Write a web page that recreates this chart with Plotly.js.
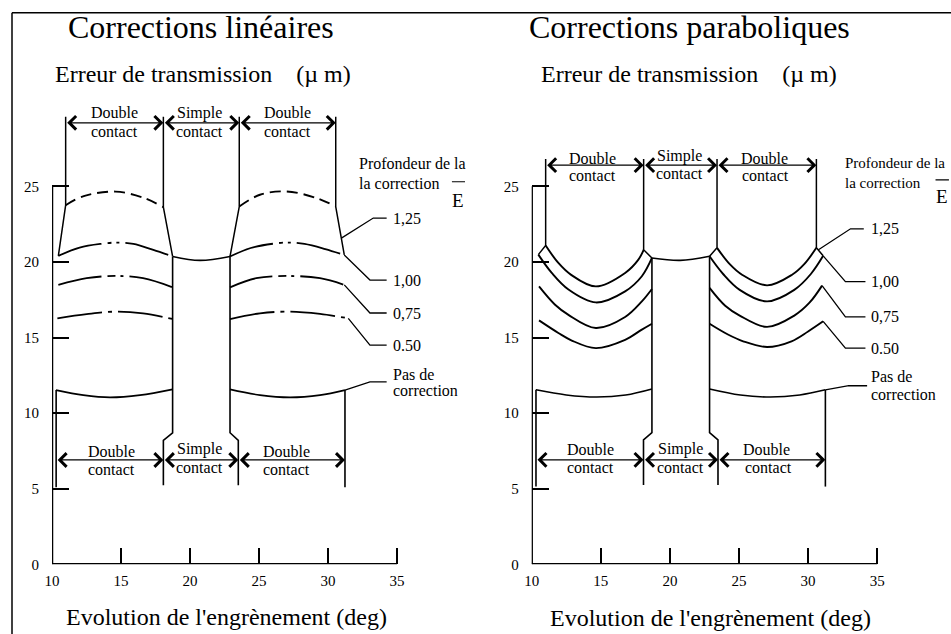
<!DOCTYPE html>
<html><head><meta charset="utf-8">
<script src="https://cdn.plot.ly/plotly-3.0.1.min.js"></script>
<style>html,body{margin:0;padding:0;background:#fff;} #chart{width:951px;height:634px;}</style>
</head><body><div id="chart"></div>
<script>
// ================= DATA =================
const xTicks = [10, 15, 20, 25, 30, 35];
const yTicks = [0, 5, 10, 15, 20, 25];
const depthLabels = ['1,25', '1,00', '0,75', '0.50'];

// ---- Linear corrections (left) ----
const lin125Lx = [10.99, 12.3, 14.6, 16.6, 18.07];
const lin125Ly = [23.75, 24.35, 24.65, 24.25, 23.62];
const lin125Rx = [23.57, 25.07, 27.0, 29.18, 30.56];
const lin125Ry = [23.66, 24.44, 24.66, 24.22, 23.66];
const lin100Lx = [10.46, 12.0, 13.6, 14.7, 15.9, 17.34, 18.74];
const lin100Ly = [20.4, 20.95, 21.2, 21.28, 21.19, 20.79, 20.36];
const lin100Rx = [22.9, 24.4, 26.0, 27.1, 28.3, 29.8, 31.18];
const lin100Ry = [20.36, 20.92, 21.2, 21.28, 21.19, 20.85, 20.46];
const lin075Lx = [10.46, 12.51, 14.57, 16.6, 18.74];
const lin075Ly = [18.48, 18.92, 19.07, 18.92, 18.32];
const lin075Rx = [22.9, 24.8, 27.0, 29.42, 31.18];
const lin075Ry = [18.32, 18.92, 19.07, 18.92, 18.48];
const lin050Lx = [10.39, 12.51, 14.57, 16.6, 18.74];
const lin050Ly = [16.27, 16.54, 16.71, 16.6, 16.22];
const lin050Rx = [22.9, 25.07, 27.25, 29.42, 31.47];
const lin050Ry = [16.22, 16.6, 16.71, 16.56, 16.27];
const lin000Lx = [10.29, 12.27, 14.2, 16.38, 18.74];
const lin000Ly = [11.52, 11.19, 11.04, 11.19, 11.57];
const lin000Rx = [22.9, 25.07, 27.25, 29.42, 31.23];
const lin000Ry = [11.57, 11.19, 11.04, 11.19, 11.52];
const linSimpleX = [18.74, 20.72, 22.9];
const linSimpleY = [20.36, 20.1, 20.36];
const linEdgeX = [[10.46, 10.99, 10.99], [18.74, 18.07, 18.07], [22.9, 23.57, 23.57], [31.18, 30.56, 30.56]];
const linEdgeY = [[20.4, 23.75, 29.6], [20.36, 23.62, 29.6], [20.36, 23.66, 29.6], [20.46, 23.66, 29.6]];
const linPostX = [[18.74, 18.74, 18.07, 18.07], [22.9, 22.9, 23.5, 23.5], [10.3, 10.3], [31.23, 31.23]];
const linPostY = [[20.36, 8.7, 8.2, 5.23], [20.36, 8.7, 8.2, 5.23], [11.52, 5.1], [11.52, 5.1]];
const linLeadX = [[30.97, 33.28, 34.25], [31.18, 33.04, 34.25], [31.18, 33.04, 34.25], [31.47, 33.04, 34.25], [31.23, 33.04, 34.25]];
const linLeadY = [[21.57, 22.9, 22.9], [20.46, 18.8, 18.8], [18.48, 16.62, 16.62], [16.27, 14.5, 14.5], [11.52, 12.07, 12.07]];
const linZoneTopX = [10.99, 18.07, 23.57, 30.56];
const linZoneTopY = 29.2;
const linZoneBotX = [10.3, 18.07, 23.5, 31.23];
const linZoneBotY = 6.9;

// ---- Parabolic corrections (right) ----
const par125Lx = [11.01, 11.93, 12.83, 14.64, 16.76, 17.72, 18.1];
const par125Ly = [21.08, 19.93, 19.16, 18.38, 19.27, 20.15, 20.8];
const par125Rx = [23.41, 24.33, 25.22, 27.03, 28.84, 29.72, 30.6];
const par125Ry = [20.93, 19.85, 19.15, 18.45, 19.15, 19.85, 20.93];
const par100Lx = [10.48, 11.45, 12.66, 14.64, 16.76, 17.97, 18.7];
const par100Ly = [20.48, 19.27, 18.17, 17.32, 18.05, 19.05, 20.26];
const par100Rx = [22.87, 23.85, 25.05, 27.03, 29.0, 30.2, 31.09];
const par100Ry = [20.37, 19.2, 18.15, 17.39, 18.15, 19.2, 20.4];
const par075Lx = [10.53, 11.69, 12.66, 14.64, 16.76, 17.97, 18.7];
const par075Ly = [18.38, 17.17, 16.5, 15.63, 16.36, 17.39, 18.21];
const par075Rx = [22.87, 24.0, 25.05, 27.03, 29.0, 30.1, 31.01];
const par075Ry = [18.28, 17.1, 16.45, 15.7, 16.45, 17.3, 18.43];
const par050Lx = [10.53, 11.93, 12.9, 14.64, 16.76, 17.97, 18.7];
const par050Ly = [16.13, 15.3, 14.8, 14.3, 14.85, 15.52, 15.91];
const par050Rx = [22.87, 24.2, 25.3, 27.03, 28.8, 30.0, 31.09];
const par050Ry = [15.91, 15.2, 14.75, 14.37, 14.75, 15.4, 16.07];
const par000Lx = [10.31, 12.5, 14.71, 16.8, 18.7];
const par000Ly = [11.54, 11.2, 11.06, 11.2, 11.6];
const par000Rx = [22.87, 25.1, 27.27, 29.4, 31.25];
const par000Ry = [11.6, 11.2, 11.06, 11.2, 11.54];
const parSimpleX = [18.7, 20.75, 22.87];
const parSimpleY = [20.26, 20.1, 20.37];
const parEdgeX = [[10.48, 11.01, 11.01], [18.7, 18.1, 18.1], [22.87, 23.41, 23.41], [31.09, 30.6, 30.6]];
const parEdgeY = [[20.48, 21.08, 26.8], [20.26, 20.8, 26.8], [20.37, 20.93, 26.8], [20.4, 20.93, 26.8]];
const parPostX = [[18.7, 18.7, 18.09, 18.09], [22.87, 22.87, 23.48, 23.48], [10.31, 10.31], [31.25, 31.25]];
const parPostY = [[20.26, 8.71, 8.23, 5.25], [20.37, 8.71, 8.23, 5.25], [11.54, 5.14], [11.54, 5.14]];
const parLeadX = [[30.75, 33.07, 34.03], [31.09, 32.7, 34.15], [31.01, 32.7, 34.15], [31.09, 32.7, 34.15], [31.25, 32.94, 34.27]];
const parLeadY = [[20.8, 22.19, 22.19], [20.4, 18.7, 18.7], [18.43, 16.36, 16.36], [16.07, 14.3, 14.3], [11.54, 11.81, 11.81]];
const parZoneTopX = [11.01, 18.1, 23.41, 30.6];
const parZoneTopY = 26.4;
const parZoneBotX = [10.31, 18.09, 23.48, 31.25];
const parZoneBotY = 6.91;

// ================= DRAWING =================
const FONT = '"Liberation Serif", "Times New Roman", Times, serif';
const BLACK = '#000';
const traces = [];
function addLine(xs, ys, xa, ya, width, dash, spline) {
  traces.push({
    type: 'scatter', mode: 'lines', x: xs, y: ys, xaxis: xa, yaxis: ya,
    line: {color: BLACK, width: width, dash: dash || 'solid', shape: spline ? 'spline' : 'linear', smoothing: 1},
    hoverinfo: 'skip', showlegend: false
  });
}
const DASH125 = '11px,6px';
const DASH100 = '45px,6px,4px,5px,3px,6px';
const DASH075 = '44px,6px,8px,5px,3px,6px';
const DASH050 = '45px,6px,4px,6px';

// left panel curves
addLine(lin125Lx, lin125Ly, 'x', 'y', 1.9, DASH125, true);
addLine(lin125Rx, lin125Ry, 'x', 'y', 1.9, DASH125, true);
addLine(lin100Lx, lin100Ly, 'x', 'y', 1.8, DASH100, true);
addLine(lin100Rx, lin100Ry, 'x', 'y', 1.8, DASH100, true);
addLine(lin075Lx, lin075Ly, 'x', 'y', 1.8, DASH075, true);
addLine(lin075Rx, lin075Ry, 'x', 'y', 1.8, DASH075, true);
addLine(lin050Lx, lin050Ly, 'x', 'y', 1.8, DASH050, true);
addLine(lin050Rx, lin050Ry, 'x', 'y', 1.8, DASH050, true);
addLine(lin000Lx, lin000Ly, 'x', 'y', 1.6, 'solid', true);
addLine(lin000Rx, lin000Ry, 'x', 'y', 1.6, 'solid', true);
addLine(linSimpleX, linSimpleY, 'x', 'y', 1.6, 'solid', true);
linEdgeX.forEach((xs, i) => addLine(xs, linEdgeY[i], 'x', 'y', 1.5));
linPostX.forEach((xs, i) => addLine(xs, linPostY[i], 'x', 'y', 1.6));
linLeadX.forEach((xs, i) => addLine(xs, linLeadY[i], 'x', 'y', 1.3));

// right panel curves
[[par125Lx, par125Ly], [par125Rx, par125Ry], [par100Lx, par100Ly], [par100Rx, par100Ry],
 [par075Lx, par075Ly], [par075Rx, par075Ry], [par050Lx, par050Ly], [par050Rx, par050Ry]]
  .forEach(c => addLine(c[0], c[1], 'x2', 'y2', 1.9, 'solid', true));
addLine(par000Lx, par000Ly, 'x2', 'y2', 1.6, 'solid', true);
addLine(par000Rx, par000Ry, 'x2', 'y2', 1.6, 'solid', true);
addLine(parSimpleX, parSimpleY, 'x2', 'y2', 1.6, 'solid', true);
parEdgeX.forEach((xs, i) => addLine(xs, parEdgeY[i], 'x2', 'y2', 1.5));
parPostX.forEach((xs, i) => addLine(xs, parPostY[i], 'x2', 'y2', 1.6));
parLeadX.forEach((xs, i) => addLine(xs, parLeadY[i], 'x2', 'y2', 1.3));

// ---- annotations ----
const ann = [];
function txt(x, y, t, xr, yr, opt) {
  ann.push(Object.assign({x: x, y: y, text: t, xref: xr, yref: yr, showarrow: false,
    font: {family: FONT, size: 16, color: BLACK}, xanchor: 'center', yanchor: 'middle'}, opt || {}));
}
function bracket(xs, y, xr, yr) {
  for (let i = 0; i < xs.length - 1; i++) {
    ann.push({x: xs[i + 1], y: y, ax: xs[i], ay: y, xref: xr, yref: yr, axref: xr, ayref: yr,
      text: '', showarrow: true, arrowhead: 4, startarrowhead: 4, arrowside: 'end+start',
      arrowsize: 2.2, startarrowsize: 2.2, arrowwidth: 1.2, arrowcolor: BLACK, standoff: 0, startstandoff: 0});
  }
}
const W = 951, H = 634;
const px = v => v / W, py = v => (H - v) / H;

// titles
txt(px(201), py(27), 'Corrections linéaires', 'paper', 'paper', {font: {family: FONT, size: 32, color: BLACK}});
txt(px(689), py(27), 'Corrections paraboliques', 'paper', 'paper', {font: {family: FONT, size: 32, color: BLACK}});
const yTitle = 'Erreur de transmission\u00a0\u00a0\u00a0\u00a0(µ m)';
txt(px(203), py(74), yTitle, 'paper', 'paper', {font: {family: FONT, size: 24, color: BLACK}});
txt(px(689), py(74), yTitle, 'paper', 'paper', {font: {family: FONT, size: 24, color: BLACK}});
const xTitle = "Evolution de l'engrènement (deg)";
txt(px(226), py(617), xTitle, 'paper', 'paper', {font: {family: FONT, size: 24, color: BLACK}});
txt(px(710), py(618), xTitle, 'paper', 'paper', {font: {family: FONT, size: 24, color: BLACK}});

// brackets
bracket(linZoneTopX, linZoneTopY, 'x', 'y');
bracket(linZoneBotX, linZoneBotY, 'x', 'y');
bracket(parZoneTopX, parZoneTopY, 'x2', 'y2');
bracket(parZoneBotX, parZoneBotY, 'x2', 'y2');

// zone texts (left)
txt(14.5, 29.85, 'Double', 'x', 'y'); txt(14.5, 28.65, 'contact', 'x', 'y');
txt(20.67, 29.85, 'Simple', 'x', 'y'); txt(20.67, 28.65, 'contact', 'x', 'y');
txt(27.05, 29.85, 'Double', 'x', 'y'); txt(27.05, 28.65, 'contact', 'x', 'y');
txt(14.33, 7.44, 'Double', 'x', 'y'); txt(14.33, 6.29, 'contact', 'x', 'y');
txt(20.72, 7.6, 'Simple', 'x', 'y'); txt(20.72, 6.42, 'contact', 'x', 'y');
txt(27.0, 7.44, 'Double', 'x', 'y'); txt(27.0, 6.29, 'contact', 'x', 'y');
// zone texts (right)
txt(14.39, 26.82, 'Double', 'x2', 'y2'); txt(14.39, 25.7, 'contact', 'x2', 'y2');
txt(20.67, 26.99, 'Simple', 'x2', 'y2'); txt(20.67, 25.85, 'contact', 'x2', 'y2');
txt(26.84, 26.82, 'Double', 'x2', 'y2'); txt(26.9, 25.7, 'contact', 'x2', 'y2');
txt(14.22, 7.57, 'Double', 'x2', 'y2'); txt(14.22, 6.4, 'contact', 'x2', 'y2');
txt(20.75, 7.6, 'Simple', 'x2', 'y2'); txt(20.75, 6.42, 'contact', 'x2', 'y2');
txt(26.98, 7.57, 'Double', 'x2', 'y2'); txt(27.1, 6.4, 'contact', 'x2', 'y2');

// depth labels
depthLabels.forEach((lab, i) => {
  txt(34.6, linLeadY[i][2], lab, 'x', 'y', {xanchor: 'left'});
  txt(34.4, parLeadY[i][2], lab, 'x2', 'y2', {xanchor: 'left'});
});
txt(34.6, 12.52, 'Pas de', 'x', 'y', {xanchor: 'left'});
txt(34.6, 11.5, 'correction', 'x', 'y', {xanchor: 'left'});
txt(34.4, 12.41, 'Pas de', 'x2', 'y2', {xanchor: 'left'});
txt(34.4, 11.26, 'correction', 'x2', 'y2', {xanchor: 'left'});
txt(32.08, 26.49, 'Profondeur de la', 'x', 'y', {xanchor: 'left'});
txt(32.08, 25.2, 'la correction', 'x', 'y', {xanchor: 'left'});
txt(39.45, 24.09, 'E', 'x', 'y', {font: {family: FONT, size: 19, color: BLACK}});
txt(32.5, 26.56, 'Profondeur de la', 'x2', 'y2', {xanchor: 'left', font: {family: FONT, size: 15, color: BLACK}});
txt(32.5, 25.23, 'la correction', 'x2', 'y2', {xanchor: 'left', font: {family: FONT, size: 15, color: BLACK}});
txt(39.7, 24.31, 'E', 'x2', 'y2', {font: {family: FONT, size: 19, color: BLACK}});

// shapes: axis lines, E bars, frame
const shapes = [
  {type: 'line', xref: 'x', yref: 'y', x0: 10, x1: 35, y0: 0, y1: 0, line: {color: BLACK, width: 2.5}},
  {type: 'line', xref: 'x', yref: 'y', x0: 10, x1: 10, y0: 0, y1: 25, line: {color: BLACK, width: 2.5}},
  {type: 'line', xref: 'x2', yref: 'y2', x0: 10, x1: 35, y0: 0, y1: 0, line: {color: BLACK, width: 2.5}},
  {type: 'line', xref: 'x2', yref: 'y2', x0: 10, x1: 10, y0: 0, y1: 25, line: {color: BLACK, width: 2.5}},
  {type: 'line', xref: 'x', yref: 'y', x0: 38.98, x1: 39.93, y0: 25.3, y1: 25.3, line: {color: BLACK, width: 1.2}},
  {type: 'line', xref: 'x2', yref: 'y2', x0: 39.22, x1: 40.19, y0: 25.42, y1: 25.42, line: {color: BLACK, width: 1.2}},
  {type: 'line', xref: 'paper', yref: 'paper', x0: px(12), x1: 1, y0: py(12.7), y1: py(12.7), line: {color: BLACK, width: 1.5}},
  {type: 'line', xref: 'paper', yref: 'paper', x0: px(12), x1: px(12), y0: 0, y1: py(12.7), line: {color: BLACK, width: 1.5}}
];

const yDom = [py(564.3), py(564.3 - 33 * 15.12)];
function xAx(d0, d1, r1) {
  return {domain: [d0, d1], range: [10, r1], showgrid: false, zeroline: false, showline: false,
    tickmode: 'array', tickvals: xTicks, ticks: 'inside', ticklen: 16, tickwidth: 2, tickcolor: BLACK,
    tickfont: {family: FONT, size: 15, color: BLACK}, ticklabelstandoff: 6, fixedrange: true};
}
function yAx(anchor) {
  return {domain: yDom, range: [0, 33], showgrid: false, zeroline: false, showline: false, anchor: anchor,
    tickmode: 'array', tickvals: yTicks, ticks: 'inside', ticklen: 17, tickwidth: 2, tickcolor: BLACK,
    tickfont: {family: FONT, size: 15, color: BLACK}, ticklabelstandoff: 12, fixedrange: true};
}
const xa1 = xAx(px(52), px(52 + 30.4 * 13.8), 40.4); xa1.anchor = 'y';
const xa2 = xAx(px(531.7), 1, 10 + (951 - 531.7) / 13.82); xa2.anchor = 'y2';
const layout = {
  width: W, height: H, margin: {l: 0, r: 0, t: 0, b: 0},
  paper_bgcolor: '#fff', plot_bgcolor: 'rgba(0,0,0,0)',
  font: {family: FONT, color: BLACK},
  showlegend: false, hovermode: false,
  xaxis: xa1, yaxis: yAx('x'), xaxis2: xa2, yaxis2: yAx('x2'),
  annotations: ann, shapes: shapes
};
Plotly.newPlot('chart', traces, layout, {staticPlot: true, displayModeBar: false});
</script>
</body></html>
